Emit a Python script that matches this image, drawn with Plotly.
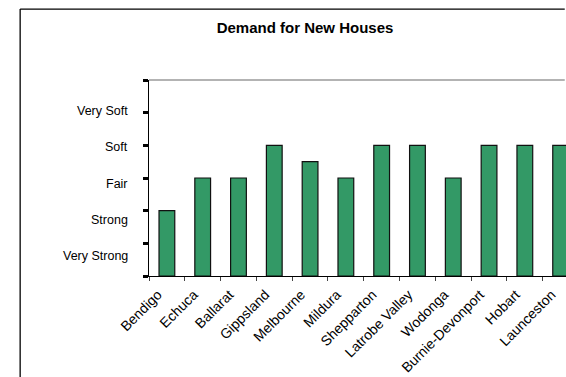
import plotly.graph_objects as go

# Regional housing demand ratings (0 = bottom of scale, 6 = top)
regions = ["Bendigo", "Echuca", "Ballarat", "Gippsland", "Melbourne", "Mildura",
           "Shepparton", "Latrobe Valley", "Wodonga", "Burnie-Devonport",
           "Hobart", "Launceston"]
demand = [2, 3, 3, 4, 3.5, 3, 4, 4, 3, 4, 4, 4]

# Rating scale text and where each label sits on the value axis
rating_labels = ["Very Strong", "Strong", "Fair", "Soft", "Very Soft"]
rating_positions = [0.6, 1.72, 2.83, 3.95, 5.06]
scale_ticks = [0, 1, 2, 3, 4, 5, 6]

FONT = "Liberation Sans, Arial, sans-serif"
BAR_GREEN = "#339966"

fig = go.Figure()
fig.add_trace(go.Bar(
    x=regions,
    y=demand,
    marker=dict(color=BAR_GREEN, line=dict(color="#111111", width=1.2)),
    hoverinfo="x+y",
))

# Rating names beside the value axis
for text, pos in zip(rating_labels, rating_positions):
    fig.add_annotation(
        x=0, xref="paper", y=pos, yref="y",
        text=text, showarrow=False,
        xanchor="right", yanchor="middle", xshift=-19,
        font=dict(family=FONT, size=12.5, color="#000000"),
    )

# Outer chart frame (left and top edges) and the grey top edge of the plotting area
fig.add_shape(type="line", xref="paper", yref="paper",
              x0=-0.309, x1=-0.309, y0=-0.6, y1=1.362,
              line=dict(color="#000000", width=1.3))
fig.add_shape(type="line", xref="paper", yref="paper",
              x0=-0.309, x1=0.997, y0=1.362, y1=1.362,
              line=dict(color="#000000", width=1.3))
fig.add_shape(type="line", xref="paper", yref="paper",
              x0=0, x1=0.997, y0=1, y1=1,
              line=dict(color="#b3b3b3", width=2))

fig.update_layout(
    width=566, height=377,
    margin=dict(l=149, r=0, t=80, b=101),
    paper_bgcolor="white", plot_bgcolor="white",
    bargap=0.56,
    showlegend=False,
    title=dict(text="<b>Demand for New Houses</b>", x=305 / 566, xref="container",
               xanchor="center", y=1 - 28 / 377, yref="container", yanchor="middle",
               font=dict(family=FONT, size=15, color="#000000")),
    font=dict(family=FONT, size=12, color="#000000"),
)

fig.update_xaxes(
    type="category",
    range=[-0.5, 11.15],
    showline=True, linecolor="#000000", linewidth=1,
    ticks="outside", tickson="boundaries", ticklen=4, tickcolor="#444444",
    tickangle=-45,
    ticklabelshift=-9, ticklabelstandoff=4,
    tickfont=dict(family=FONT, size=14, color="#000000"),
    showgrid=False, zeroline=False,
)

fig.update_yaxes(
    range=[0, 6],
    tickvals=scale_ticks, ticktext=[""] * len(scale_ticks),
    showline=True, linecolor="#000000", linewidth=1,
    ticks="outside", ticklen=5, tickwidth=3, tickcolor="#000000",
    showgrid=False, zeroline=False,
)

fig.write_html("out.html")
